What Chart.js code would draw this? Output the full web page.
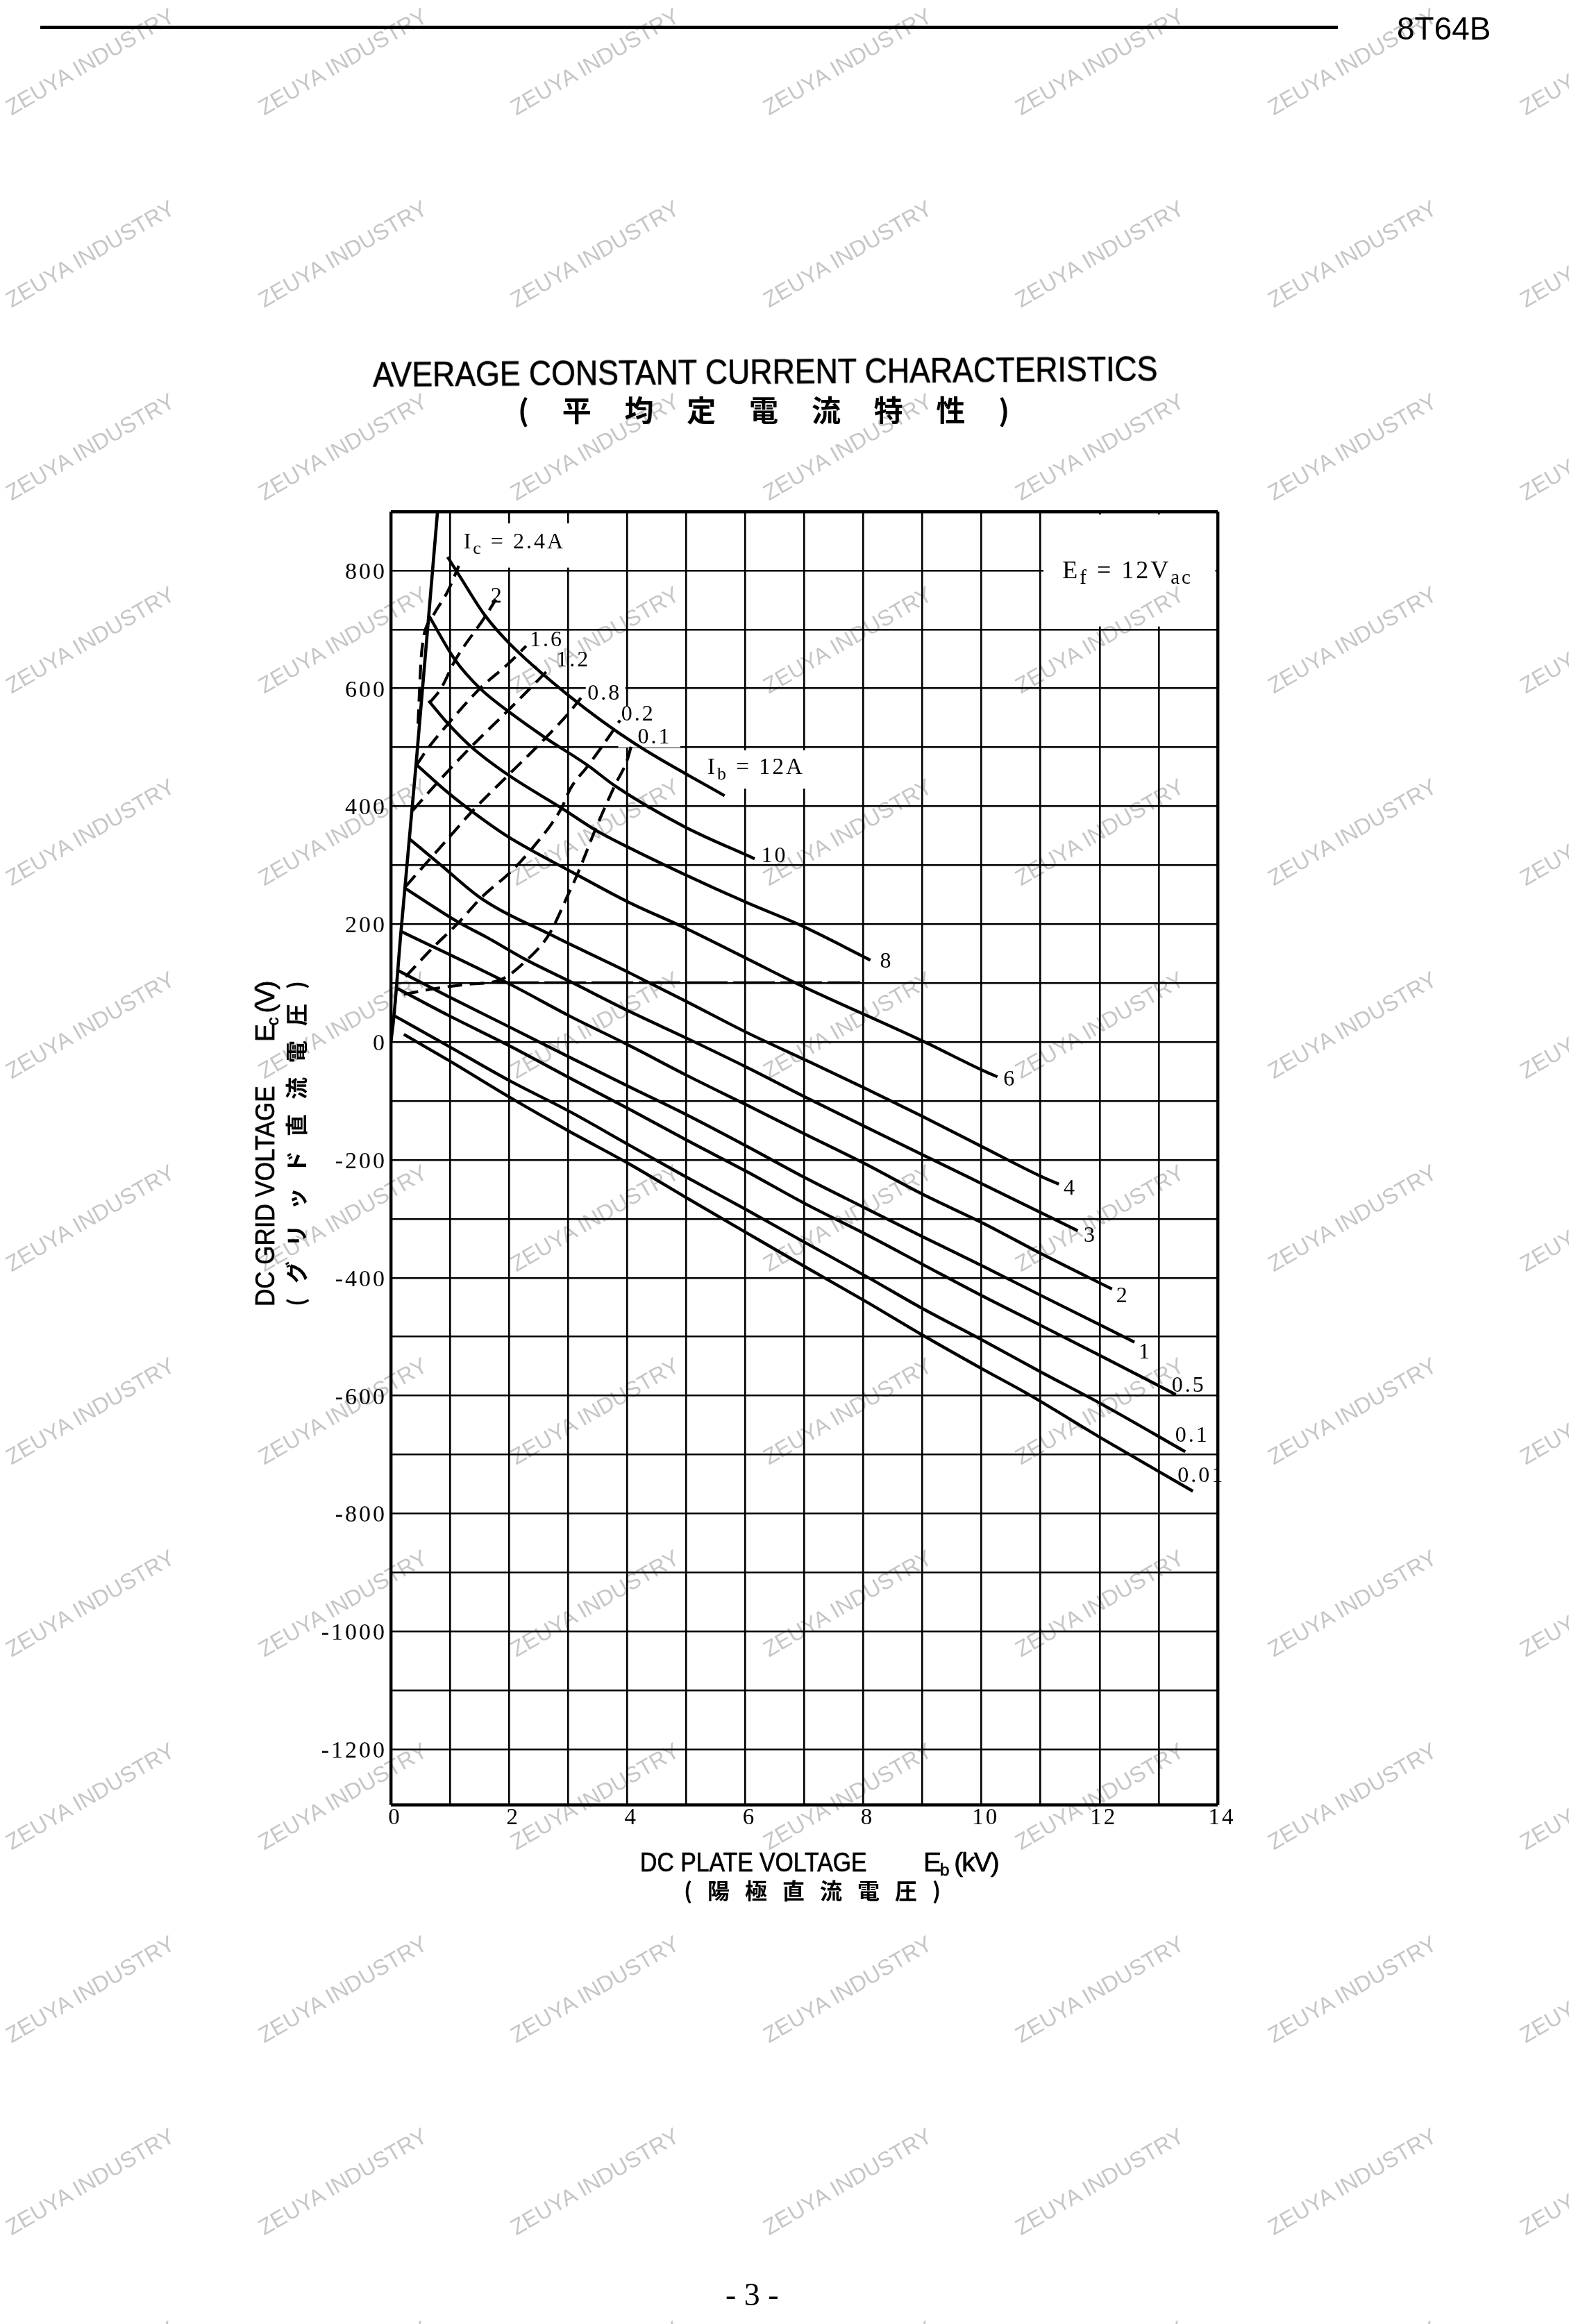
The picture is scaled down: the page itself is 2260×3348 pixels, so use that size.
<!DOCTYPE html>
<html>
<head>
<meta charset="utf-8">
<title>8T64B</title>
<script src="https://cdn.jsdelivr.net/npm/chart.js@4/dist/chart.umd.js"></script>
<style>
  html, body { margin: 0; padding: 0; background: #fff; }
  #page { position: relative; width: 2260px; height: 3348px; overflow: hidden; background: #fff; }
  #plot { position: absolute; left: 0; top: 0; }
  .txt { position: absolute; white-space: nowrap; color: #000; font-family: "Liberation Sans", sans-serif; line-height: 1; }
  .head { -webkit-text-stroke: 0.7px #000; }
  .cjk { font-family: "Noto Sans CJK JP", sans-serif; font-weight: 700; }
  sub { font-size: 62%; vertical-align: -0.25em; line-height: 0; }
  #marks { position: absolute; inset: 0; pointer-events: none; mix-blend-mode: multiply; }
  .mark { position: absolute; white-space: nowrap; color: #c6c6c6; font: 32px "Liberation Sans", sans-serif; transform: translate(-50%, -50%) rotate(-30deg); }
</style>
</head>
<body>
<div id="page">
  <canvas id="plot" width="2260" height="3348"></canvas>

  <div class="txt" style="left:58px;top:37px;width:1869px;height:5px;background:#000"></div>
  <div class="txt" style="left:2012px;top:18px;font-size:46px">8T64B</div>

  <div class="txt head" style="left:537px;top:515px;font-size:50px;transform:rotate(-0.43deg) scaleX(0.893);transform-origin:left center">AVERAGE CONSTANT CURRENT CHARACTERISTICS</div>
  <div class="txt cjk" style="left:746px;top:568px;font-size:42px;letter-spacing:47.8px">(平均定電流特性)</div>

  <div class="txt head" style="left:922px;top:2663px;font-size:39px;transform:scaleX(0.866);transform-origin:left center">DC PLATE VOLTAGE</div>
  <div class="txt head" style="left:1330px;top:2663px;font-size:39px;letter-spacing:-2px">E<sub>b</sub> (kV)</div>
  <div class="txt cjk" style="left:985px;top:2706px;font-size:32px;letter-spacing:22px">(陽極直流電圧)</div>

  <div class="txt head" style="left:362px;top:1882px;font-size:39px;transform:rotate(-90deg) scaleX(0.897);transform-origin:left top">DC GRID VOLTAGE</div>
  <div class="txt head" style="left:362px;top:1501px;font-size:39px;letter-spacing:-2.5px;transform:rotate(-90deg);transform-origin:left top">E<sub>c</sub> (V)</div>
  <div class="txt cjk" style="left:409px;top:1882px;font-size:32px;letter-spacing:21px;transform:rotate(-90deg);transform-origin:left top">(グリッド直流電圧)</div>

  <div class="txt" style="left:1045px;top:3283px;font-family:'Liberation Serif',serif;font-size:46px">- 3 -</div>

  <div id="marks"></div>
</div>

<script>
// x axis is plate voltage in kV, y axis is grid voltage in V
const xTicks = [0, 2, 4, 6, 8, 10, 12, 14];
const yTicks = [800, 600, 400, 200, 0, -200, -400, -600, -800, -1000, -1200];

// limit edge on the left
const edge = [[0, 0], [0.05, 42], [0.17, 186], [0.43, 475], [0.79, 900]];

// constant plate current curves
const ib12 = [[0.96, 823], [1.15, 793], [1.57, 727], [1.99, 678], [3.01, 588], [4.12, 507], [5.65, 418]];
const ib10 = [[0.64, 724], [1.09, 648], [1.51, 600], [1.99, 561], [2.62, 516], [3.34, 469], [3.79, 435], [4.96, 366], [6.16, 311]];
const ib8 = [[0.64, 579], [0.97, 540], [1.36, 501], [1.99, 453], [2.89, 397], [3.46, 360], [4.03, 330], [4.96, 285], [6.04, 236], [6.94, 198], [8.12, 139]];
const ib6 = [[0.43, 471], [0.97, 423], [1.39, 390], [1.99, 348], [3.13, 285], [4.03, 237], [4.93, 196], [6.04, 141], [6.88, 99], [9, 2], [10.04, -49], [10.27, -59]];
const ib4 = [[0.31, 345], [0.85, 300], [1.54, 243], [2.79, 178], [4.05, 117], [5.02, 68], [6.03, 16], [7.01, -30], [8.04, -79], [9, -126], [10.04, -179], [11.01, -228], [11.31, -241]];
const ib3 = [[0.24, 261], [1.15, 203], [1.62, 178], [2.32, 138], [3.03, 103], [4.04, 52], [5.02, 6], [6.03, -43], [7.01, -93], [8.04, -144], [9, -191], [10.04, -242], [11.63, -320]];
const ib2 = [[0.19, 187], [2, 99], [3.03, 44], [4.04, -6], [5.02, -57], [6.03, -107], [7.01, -156], [8.04, -207], [9, -258], [10.04, -308], [11.01, -359], [12.21, -419]];
const ib1 = [[0.13, 121], [0.96, 78], [2, 26], [3.03, -26], [4.04, -76], [5.02, -124], [6.03, -177], [7.01, -230], [8.04, -282], [9, -330], [10.04, -381], [11.01, -430], [12.59, -509]];
const ib05 = [[0.11, 91], [0.96, 46], [2, -6], [3.03, -61], [4.04, -114], [5.02, -167], [6.03, -220], [7.01, -274], [8.04, -326], [9, -377], [10.04, -432], [11.01, -481], [12.03, -533], [13.29, -598]];
const ib01 = [[0.07, 44], [0.96, -6], [2, -65], [3.03, -118], [4.04, -175], [5.02, -230], [6.03, -285], [7.01, -340], [8.04, -397], [9, -452], [10.04, -507], [11.01, -560], [12.03, -614], [13.45, -695]];
const ib001 = [[0.22, 13], [0.96, -30], [2, -93], [3.03, -152], [4.04, -207], [5.02, -265], [6.03, -324], [7.01, -381], [8.04, -440], [9, -497], [10.04, -556], [10.75, -595], [12.03, -672], [13.58, -762]];

// constant grid current curves (dashed)
const ic24 = [[0.46, 540], [0.52, 660], [0.70, 720], [0.97, 766], [1.15, 808]];
const ic2 = [[0.65, 575], [0.85, 600], [1.09, 648], [1.57, 718], [1.78, 751]];
const ic16 = [[0.43, 469], [0.61, 496], [0.97, 540], [1.51, 600], [1.99, 642], [2.29, 672]];
const ic12 = [[0.37, 393], [0.85, 447], [1.36, 501], [1.97, 561], [2.71, 636]];
const ic08 = [[0.25, 264], [0.70, 315], [0.94, 342], [1.39, 393], [1.99, 453], [2.62, 516], [3.01, 558], [3.22, 584]];
const ic02 = [[0.25, 111], [0.70, 159], [1.15, 203], [1.54, 246], [2.02, 288], [2.38, 327], [2.89, 397], [3.04, 430], [3.34, 469], [3.76, 528], [3.88, 546]];
const ic01 = [[0.22, 81], [0.70, 90], [1.30, 98], [1.84, 105], [2.29, 138], [2.68, 183], [3.01, 252], [3.16, 285], [3.46, 360], [3.79, 435], [4, 478], [4.09, 510]];
const ic100 = [[1.8, 101], [7.95, 101]];

// text on the curves: parts (second item marks a subscript), kV, V, font size
const curveLabels = [
  [[['I'], ['c', 1], [' = 2.4A']], 1.23, 848, 32],
  [[['2']], 1.69, 756, 32],
  [[['1.6']], 2.35, 681, 32],
  [[['1.2']], 2.80, 647, 32],
  [[['0.8']], 3.33, 591, 32],
  [[['0.2']], 3.90, 556, 32],
  [[['0.1']], 4.18, 517, 32],
  [[['I'], ['b', 1], [' = 12A']], 5.36, 465, 33],
  [[['10']], 6.27, 315, 32],
  [[['8']], 8.28, 136, 32],
  [[['6']], 10.37, -64, 32],
  [[['4']], 11.39, -249, 32],
  [[['3']], 11.73, -329, 32],
  [[['2']], 12.28, -432, 32],
  [[['1']], 12.66, -527, 32],
  [[['0.5']], 13.22, -583, 32],
  [[['0.1']], 13.28, -668, 32],
  [[['0.01']], 13.32, -736, 32],
  [[['E'], ['f', 1], [' = 12V'], ['ac', 1]], 11.37, 798, 36]
];

// spots where the scan has no grid because text was pasted over it: kV, V, kV, V
const gridGaps = [
  [1.2, 880, 3.3, 805],
  [11.05, 895, 13.96, 705],
  [5.35, 495, 7.15, 430],
  [3.3, 605, 3.97, 570],
  [3.85, 570, 4.9, 500]
];

const SERIF = '"Liberation Serif", serif';

function solid(points, width) {
  return {
    data: points.map(p => ({ x: p[0], y: p[1] })),
    borderColor: '#000',
    borderWidth: width || 4.4,
    showLine: true,
    pointRadius: 0,
    cubicInterpolationMode: 'monotone'
  };
}

function dashed(points) {
  const ds = solid(points, 4.2);
  ds.borderDash = [21, 11];
  return ds;
}

const labelPlugin = {
  id: 'curveLabels',
  beforeDatasetsDraw(chart) {
    const { ctx, scales } = chart;
    ctx.save();
    ctx.fillStyle = '#fff';
    gridGaps.forEach(g => {
      const x0 = scales.x.getPixelForValue(g[0]);
      const y0 = scales.y.getPixelForValue(g[1]);
      ctx.fillRect(x0, y0, scales.x.getPixelForValue(g[2]) - x0, scales.y.getPixelForValue(g[3]) - y0);
    });
    ctx.restore();
  },
  afterDatasetsDraw(chart) {
    const { ctx, scales } = chart;
    ctx.save();
    ctx.letterSpacing = '3px';
    ctx.fillStyle = '#000';
    ctx.textBaseline = 'middle';
    curveLabels.forEach(l => {
      let px = scales.x.getPixelForValue(l[1]);
      const py = scales.y.getPixelForValue(l[2]);
      l[0].forEach(p => {
        ctx.font = (p[1] ? Math.round(l[3] * 0.8) : l[3]) + 'px ' + SERIF;
        ctx.fillText(p[0], px, py + (p[1] ? 10 : 0));
        px += ctx.measureText(p[0]).width;
      });
    });
    ctx.restore();
  }
};

// all tick text in the scan is spaced out
const tickSpacing = {
  id: 'tickSpacing',
  beforeInit(chart) { chart.ctx.letterSpacing = '3px'; },
  beforeDraw(chart) { chart.ctx.letterSpacing = '3px'; }
};

new Chart(document.getElementById('plot'), {
  type: 'scatter',
  data: {
    datasets: [
      solid(edge, 4.6), solid(ib12), solid(ib10), solid(ib8), solid(ib6), solid(ib4), solid(ib3),
      solid(ib2), solid(ib1), solid(ib05), solid(ib01), solid(ib001),
      dashed(ic24), dashed(ic2), dashed(ic16), dashed(ic12), dashed(ic08), dashed(ic02), dashed(ic01),
      { ...dashed(ic100), borderDash: [60, 8], borderWidth: 3.4 }
    ]
  },
  options: {
    responsive: false,
    animation: false,
    devicePixelRatio: 1,
    layout: { padding: { left: 0, top: 737, right: 506, bottom: 0 } },
    plugins: { legend: { display: false }, title: { display: false }, tooltip: { enabled: false } },
    scales: {
      x: {
        type: 'linear',
        min: 0,
        max: 14,
        afterFit: s => { s.height = 748; },
        afterBuildTicks: s => { s.ticks = Array.from({ length: 15 }, (_, i) => ({ value: i })); },
        grid: {
          color: '#000',
          drawTicks: false,
          lineWidth: c => (c.tick && (c.tick.value === 14 || c.tick.value === 0) ? 4.4 : 2.6)
        },
        border: { display: false },
        ticks: {
          autoSkip: false,
          maxRotation: 0,
          padding: 0,
          labelOffset: 6,
          color: '#000',
          font: { family: SERIF, size: 33 },
          callback: v => (xTicks.includes(v) ? String(v) : '')
        }
      },
      y: {
        type: 'linear',
        min: -1294,
        max: 900,
        afterFit: s => { s.width = 563; },
        afterBuildTicks: s => {
          s.ticks = [{ value: -1294 }].concat(Array.from({ length: 22 }, (_, i) => ({ value: -1200 + i * 100 })));
        },
        grid: {
          color: '#000',
          drawTicks: false,
          lineWidth: c => (c.tick && (c.tick.value === 900 || c.tick.value === -1294) ? 4.4 : 2.6)
        },
        border: { display: false },
        ticks: {
          autoSkip: false,
          padding: 6,
          labelOffset: 3,
          color: '#000',
          font: { family: SERIF, size: 34 },
          callback: v => (yTicks.includes(v) ? String(v) : '')
        }
      }
    }
  },
  plugins: [labelPlugin, tickSpacing]
});

// scan watermark, repeated over the whole sheet
const marks = document.getElementById('marks');
for (let row = 0; row < 13; row++) {
  for (let col = 0; col < 7; col++) {
    const m = document.createElement('div');
    m.className = 'mark';
    m.textContent = 'ZEUYA INDUSTRY';
    m.style.left = (130 + col * 363.5) + 'px';
    m.style.top = (88.6 + row * 277.7) + 'px';
    marks.appendChild(m);
  }
}
</script>
</body>
</html>
